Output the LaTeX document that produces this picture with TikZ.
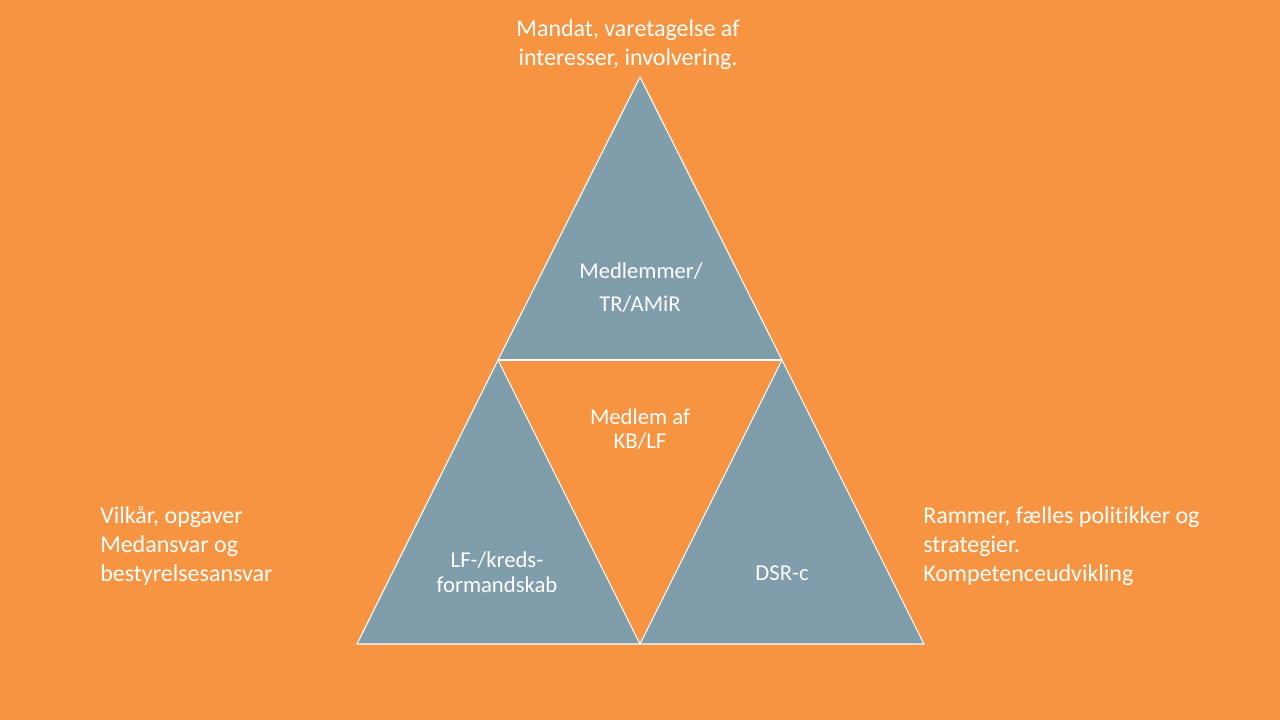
\documentclass[tikz,border=0pt]{standalone}
\usepackage{fontspec}
\setmainfont[Ligatures=NoCommon]{Carlito}
\definecolor{bgorange}{RGB}{247,148,66}
\definecolor{trifill}{RGB}{127,157,171}
\tikzset{
  tri/.style={fill=trifill,draw=white,line width=0.8pt,line join=miter},
  outer/.style={text=white,font=\fontsize{18}{21.75}\selectfont,inner sep=0pt},
  inner/.style={text=white,font=\fontsize{17}{18.5}\selectfont,inner sep=0pt,align=center}
}
\begin{document}
\begin{tikzpicture}[x=0.75pt,y=-0.75pt]
\fill[bgorange] (0,0) rectangle (1280,720);
\useasboundingbox (0,0) rectangle (1280,720);
\coordinate (A) at (640,77);
\coordinate (B) at (498,360);
\coordinate (C) at (782,360);
\coordinate (D) at (357,644);
\coordinate (E) at (640,644);
\coordinate (F) at (924,644);
\draw[tri] (A) -- (C) -- (B) -- cycle;
\draw[tri] (B) -- (E) -- (D) -- cycle;
\draw[tri] (C) -- (F) -- (E) -- cycle;
\draw[white,line width=0.8pt] (B) -- (C);
% outer labels
\node[outer,align=center] (top) at (628,45) {Mandat, varetagelse af\\interesser, involvering.};
\node[outer,align=left,anchor=west] (left) at (100,546) {Vilkår, opgaver\\Medansvar og\\bestyrelsesansvar};
\node[outer,align=left,anchor=west] (right) at (923,546) {Rammer, fælles politikker og\\strategier.\\Kompetenceudvikling};
% inner labels
\node[inner] (t1) at (641,271) {Medlemmer/};
\node[inner] (t2) at (640,304) {TR/AMiR};
\node[inner] (m) at (640,429) {Medlem af\\KB/LF};
\node[inner] (l) at (497,572) {LF-/kreds-\\formandskab};
\node[inner] (r) at (782,573) {DSR-c};
\end{tikzpicture}
\end{document}
